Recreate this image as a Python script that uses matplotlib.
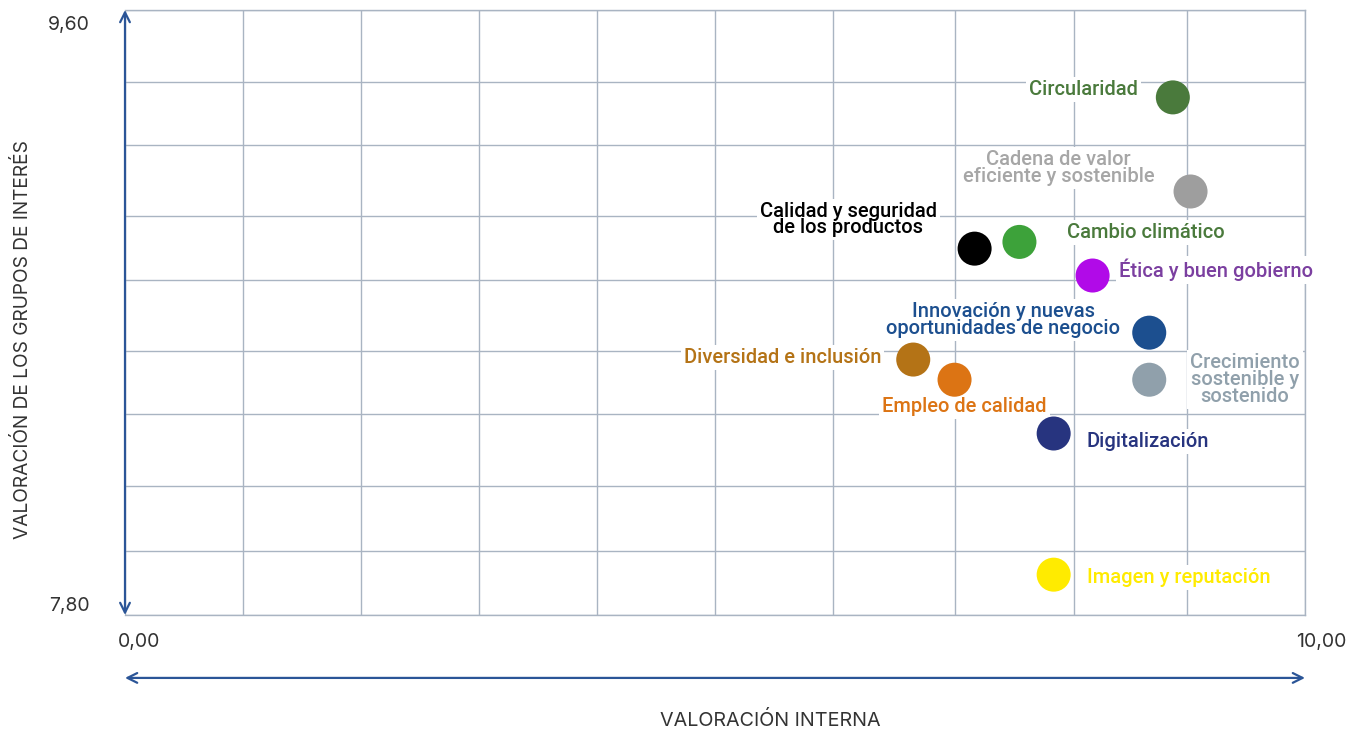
import matplotlib
matplotlib.use("Agg")
import matplotlib.pyplot as plt

# data
labels = [
    "Circularidad",
    "Cadena de valor\neficiente y sostenible",
    "Calidad y seguridad\nde los productos",
    "Cambio climático",
    "Ética y buen gobierno",
    "Innovación y nuevas\noportunidades de negocio",
    "Diversidad e inclusión",
    "Empleo de calidad",
    "Crecimiento\nsostenible y\nsostenido",
    "Digitalización",
    "Imagen y reputación",
]
interna = [8.88, 9.03, 7.20, 7.58, 8.20, 8.68, 6.68, 7.03, 8.68, 7.87, 7.87]
grupos = [9.34, 9.06, 8.89, 8.91, 8.81, 8.64, 8.56, 8.50, 8.50, 8.34, 7.92]
dot_colors = ["#4a7a3c", "#9e9e9e", "#000000", "#3da23a", "#b10ae8", "#1c4f8f",
              "#b47316", "#dc7414", "#90a0ab", "#27347f", "#ffeb00"]
text_colors = ["#4a7a3c", "#a6a6a6", "#000000", "#4a7a3c", "#7b3fa0", "#1c4f8f",
               "#b47316", "#dc7414", "#90a0ab", "#27347f", "#ffeb00"]

# grid positions as drawn in the reference
x_grid = [0, 1, 2, 3, 4, 5, 6, 7.03, 8.04, 9, 10]
y_grid = [7.80, 7.99, 8.184, 8.398, 8.585, 8.797, 8.987, 9.198, 9.386, 9.60]

# label placement: offset in points from the dot, horizontal alignment
offsets = [(-25, 6), (-95, 17), (-91, 21), (34, 7), (19, 4), (-105, 9),
           (-23, 1.5), (7, -19), (69, 0), (24, -5.5), (24, -2)]
aligns = ["right", "center", "center", "left", "left", "center",
          "right", "center", "center", "left", "left"]

BLUE = "#2b5597"
GRID = "#a9b4c2"
DARK = "#333333"

fig = plt.figure(figsize=(13.48, 7.29), dpi=100)
ax = fig.add_axes([125 / 1348, 1 - 615 / 729, 1180 / 1348, 605 / 729])

ax.set_xlim(0, 10)
ax.set_ylim(7.8, 9.6)
ax.set_xticks(x_grid)
ax.set_yticks(y_grid)
ax.tick_params(length=0, labelbottom=False, labelleft=False)
ax.grid(True, color=GRID, linewidth=1.0)
ax.set_axisbelow(True)
for side in ["top", "right", "bottom"]:
    ax.spines[side].set_color(GRID)
    ax.spines[side].set_linewidth(1.0)
ax.spines["left"].set_visible(False)

ax.scatter(interna, grupos, s=600, c=dot_colors, zorder=4, linewidths=0)

for lab, x, y, col, off, ha in zip(labels, interna, grupos, text_colors, offsets, aligns):
    ax.annotate(lab, xy=(x, y), xytext=off, textcoords="offset points",
                ha=ha, va="center", multialignment="center", color=col,
                fontsize=14.5, family="Roboto", fontweight="medium",
                linespacing=0.85, zorder=3,
                bbox=dict(boxstyle="square,pad=0.15", fc="white", ec="none"))

# axis arrows
arrow = dict(arrowstyle="<->,head_length=0.7,head_width=0.35", color=BLUE, lw=1.6,
             shrinkA=0, shrinkB=0)
ax.annotate("", xy=(0, 9.6), xytext=(0, 7.8), arrowprops=arrow, annotation_clip=False)
ax.annotate("", xy=(10, -0.104), xytext=(0, -0.104), xycoords=ax.get_xaxis_transform(),
            arrowprops=arrow, annotation_clip=False)

# tick labels
tick_font = dict(fontsize=14, color=DARK, family="Inter")
ax.text(-0.3, 9.555, "9,60", ha="right", va="center", transform=ax.transData, **tick_font)
ax.text(-0.3, 7.827, "7,80", ha="right", va="center", transform=ax.transData, **tick_font)
ax.text(-0.06, -0.045, "0,00", ha="left", va="center", transform=ax.get_xaxis_transform(), **tick_font)
ax.text(10.35, -0.045, "10,00", ha="right", va="center", transform=ax.get_xaxis_transform(), **tick_font)

fig.text(23 / 1348, 1 - 340 / 729, "VALORACIÓN DE LOS GRUPOS DE INTERÉS", rotation=90,
         ha="center", va="center", fontsize=13.8, color=DARK, family="Inter")
fig.text(770 / 1348, 1 - 720 / 729, "VALORACIÓN INTERNA", ha="center", va="center",
         fontsize=14.2, color=DARK, family="Inter")

fig.savefig("out.png", dpi=100)
